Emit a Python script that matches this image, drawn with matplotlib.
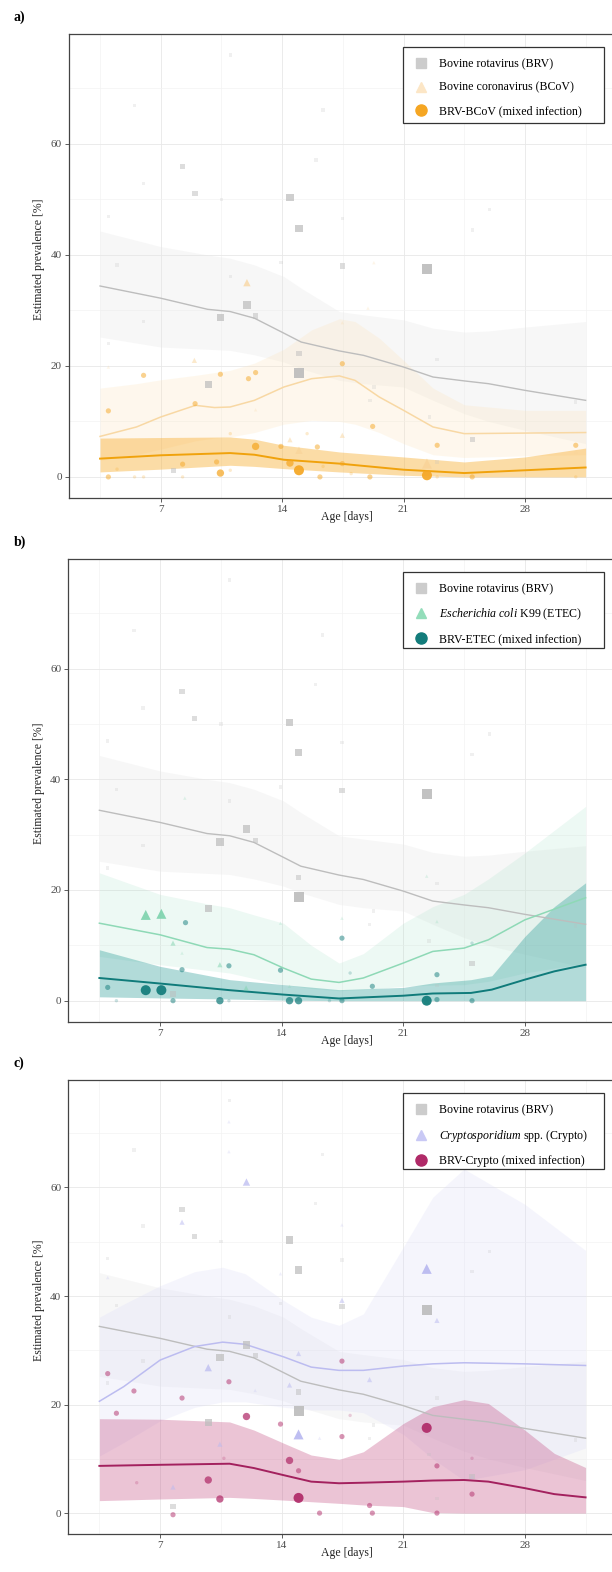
import numpy as np
import matplotlib
matplotlib.use("Agg")
from matplotlib import pyplot as plt
from matplotlib.colors import to_rgba
from matplotlib.lines import Line2D
from matplotlib.patches import Rectangle

plt.rcParams["font.family"] = ["Liberation Serif", "DejaVu Serif"]
plt.rcParams["mathtext.fontset"] = "custom"
plt.rcParams["mathtext.rm"] = "Liberation Serif"
plt.rcParams["mathtext.it"] = "Liberation Serif:italic"

# ---------------- datos ----------------
# Bovine rotavirus (igual en los tres paneles)
brv_x = [3.5, 7, 9.7, 11, 12.4, 14.1, 15.1, 17.3, 18.7, 21, 22.7, 24.5, 25.9, 28, 31.5]
brv_y = [34.4, 32.2, 30.2, 29.8, 28.6, 25.9, 24.3, 22.7, 21.9, 19.8, 18.0, 17.3, 16.8, 15.6, 13.8]
brv_hi = [44.3, 41.5, 40.0, 39.4, 38.2, 36.1, 34.0, 29.8, 29.2, 28.3, 26.8, 26.1, 26.3, 27.0, 28.0]
brv_lo = [25.2, 23.4, 23.0, 22.8, 22.0, 20.7, 19.5, 17.4, 16.8, 16.2, 13.8, 11.4, 10.0, 8.4, 6.0]
brv_px = [22.35, 14.97, 11.97, 10.44, 9.77, 14.45, 14.97, 14.97, 17.47, 8.26, 8.98, 12.47, 7.74,
          24.96, 22.94, 22.48, 19.06, 5.49, 3.98, 4.48, 6.01, 10.51, 13.93, 19.29, 30.93, 6.01,
          3.98, 25.97, 24.96, 17.47, 11.01, 15.96, 11.01, 16.36, 22.94]
brv_py = [37.4, 18.8, 31.0, 28.7, 16.7, 50.3, 44.8, 22.3, 38.0, 55.9, 51.0, 29.0, 1.2,
          6.7, 21.2, 10.8, 13.8, 66.9, 46.9, 38.2, 52.9, 50.0, 38.6, 16.2, 13.5, 28.0,
          24.0, 48.2, 44.5, 46.6, 36.1, 57.1, 76.0, 66.1, 2.7]
brv_pw = [4, 4, 3, 3, 3, 3, 3, 2, 2, 2, 2, 2, 2,
          2, 1, 1, 1, 1, 1, 1, 1, 1, 1, 1, 1, 1,
          1, 1, 1, 1, 1, 1, 1, 1, 1]

# a) BCoV
bcov_x = [3.5, 5.6, 7, 9, 10.1, 11, 12.4, 14.1, 15.7, 17.3, 18.2, 19.6, 21, 22.7, 24.5, 28, 31.5]
bcov_y = [7.3, 9.0, 10.8, 12.9, 12.5, 12.6, 13.8, 16.2, 17.7, 18.2, 17.4, 14.4, 12.0, 9.0, 7.8, 7.9, 8.0]
bcov_hi = [16, 16.8, 17.5, 18.3, 18.8, 19.2, 20.5, 23, 26.5, 28.5, 28, 25, 21, 16, 13, 12, 12]
bcov_lo = [3, 4, 5, 6.5, 7, 7.2, 8, 9.5, 10.2, 10, 9.5, 8, 6, 4, 3.5, 3.8, 4]
bcov_px = [11.97, 22.35, 14.97, 14.45, 17.47, 8.94, 17.47, 18.95, 19.29, 3.98, 12.47, 30.93]
bcov_py = [35.0, 2.4, 4.8, 6.7, 7.5, 21.0, 27.8, 30.4, 38.6, 19.8, 12.1, 4.5]
bcov_pw = [3, 4, 3, 2, 2, 2, 1, 1, 1, 1, 1, 1]

# a) BRV-BCoV
mixa_x = [3.5, 7, 11, 12.4, 14.1, 17.3, 21, 24.5, 28, 31.5]
mixa_y = [3.3, 3.9, 4.3, 4.0, 3.1, 2.4, 1.3, 0.7, 1.2, 1.7]
mixa_hi = [7.0, 7.1, 7.2, 6.8, 5.7, 4.5, 3.6, 2.7, 3.6, 5.2]
mixa_lo = [0.9, 1.4, 2.1, 1.9, 1.5, 0.9, 0.3, 0, 0, 0]
mixa_px = [22.35, 14.97, 10.44, 14.45, 12.47, 13.93, 8.98, 8.26, 10.22, 6.01, 3.98, 10.44, 12.06,
           12.47, 17.47, 19.22, 22.94, 30.93, 15.44, 16.03, 3.98, 5.49, 6.01, 8.26, 16.18, 17.47,
           17.98, 19.06, 22.94, 24.96, 30.93, 11.01, 11.01, 4.48, 16.36]
mixa_py = [0.3, 1.2, 0.7, 2.5, 5.5, 5.5, 13.2, 2.3, 2.7, 18.3, 11.9, 18.5, 17.7,
           18.8, 20.4, 9.1, 5.7, 5.7, 7.8, 5.4, 0, 0, 0, 0, 0, 2.4,
           0.6, 0, 0, 0, 0, 7.8, 1.2, 1.4, 1.9]
mixa_pw = [4, 4, 3, 3, 3, 2, 2, 2, 2, 2, 2, 2, 2,
           2, 2, 2, 2, 2, 1, 2, 2, 1, 1, 1, 2, 2,
           1, 2, 1, 2, 1, 1, 1, 1, 1]

# b) ETEC
etec_x = [3.5, 7, 9.7, 11, 12.4, 14.1, 15.7, 17.3, 18.7, 21, 22.7, 24.5, 25.9, 28, 31.5]
etec_y = [14.0, 11.9, 9.6, 9.3, 8.3, 5.9, 3.9, 3.3, 4.1, 6.8, 8.9, 9.5, 11.0, 14.6, 18.6]
etec_hi = [23.1, 19.2, 17.5, 16.8, 15.5, 14.0, 10.0, 6.8, 8.5, 14.0, 17.0, 19.2, 22.0, 26.7, 35.1]
etec_lo = [8.0, 6.5, 5.5, 5.0, 4.0, 2.9, 2.2, 1.8, 2.0, 2.6, 2.8, 2.9, 3.5, 5.0, 6.8]
etec_px = [6.17, 7.07, 22.35, 7.74, 10.44, 11.95, 8.42, 22.35, 22.94, 13.93, 17.47, 8.26, 14.45]
etec_py = [15.5, 15.7, 0.0, 10.4, 6.5, 2.3, 36.6, 22.5, 14.3, 14.0, 14.9, 8.6, 2.6]
etec_pw = [4, 4, 3, 2, 2, 2, 1, 1, 1, 1, 1, 1, 1]

# b) BRV-ETEC
mixb_x = [3.5, 7, 11, 14.1, 17.3, 21, 22.7, 24.9, 26.1, 28, 29.7, 31.5]
mixb_y = [4.1, 3.1, 1.9, 1.1, 0.4, 0.9, 1.3, 1.4, 2.0, 3.8, 5.3, 6.5]
mixb_hi = [9.2, 6.2, 3.8, 2.9, 2.0, 2.4, 3.2, 3.8, 4.5, 11.6, 17.0, 21.3]
mixb_lo = [0.7, 0.5, 0.3, 0.1, 0, 0, 0, 0, 0, 0, 0, 0]
mixb_px = [6.17, 7.07, 22.35, 10.44, 14.45, 14.97, 7.74, 17.47, 13.93, 8.26, 22.94, 24.96,
           10.96, 17.94, 19.22, 8.46, 3.98, 4.48, 16.75, 17.47, 24.96, 22.94, 10.96]
mixb_py = [1.9, 1.9, 0, 0, 0, 0, 0, 11.3, 5.5, 5.6, 4.7, 0,
           6.3, 5.0, 2.6, 14.1, 2.4, 0, 0, 0, 10.4, 0.2, 0]
mixb_pw = [4, 4, 4, 3, 3, 3, 2, 2, 2, 2, 2, 2,
           2, 1, 2, 2, 2, 1, 1, 2, 1, 2, 1]

# c) Crypto
cry_x = [3.5, 4.9, 7, 9, 10.6, 11.9, 14.1, 15.7, 17.3, 18.7, 21, 22.7, 24.5, 28, 31.5]
cry_y = [20.6, 23.3, 28.2, 30.7, 31.5, 31.1, 28.8, 26.9, 26.3, 26.3, 27.1, 27.5, 27.7, 27.5, 27.2]
cry_hi = [36.1, 38.5, 41.9, 44.5, 45.3, 44.1, 39.2, 36.1, 34.6, 36.7, 49.0, 58.2, 63.4, 56.9, 48.4]
cry_lo = [10.5, 13, 17, 19.5, 20.5, 20.5, 19.5, 19, 19, 18.5, 14.5, 10, 6, 8, 12]
cry_px = [22.35, 14.97, 11.97, 9.77, 14.45, 14.97, 17.47, 8.26, 10.44, 7.74, 22.94, 19.06,
          10.96, 10.96, 17.47, 13.93, 24.96, 16.18, 3.98, 12.47, 24.96]
cry_py = [45.0, 14.5, 61.0, 26.8, 23.6, 29.4, 39.2, 53.6, 12.7, 4.8, 35.5, 24.6,
          72.1, 66.6, 53.1, 44.1, 68.7, 13.8, 43.4, 22.6, 6.7]
cry_pw = [4, 4, 3, 3, 2, 2, 2, 2, 2, 2, 2, 2,
          1, 1, 1, 1, 1, 1, 1, 1, 1]

# c) BRV-Crypto
mixc_x = [3.5, 7, 11, 12.4, 14.1, 15.7, 17.3, 18.7, 21, 22.7, 24.5, 25.9, 28, 29.7, 31.5]
mixc_y = [8.7, 8.9, 9.1, 8.3, 7.0, 5.8, 5.5, 5.6, 5.8, 6.0, 6.1, 5.8, 4.6, 3.5, 2.9]
mixc_hi = [17.4, 17.3, 16.8, 15.3, 12.9, 10.7, 9.9, 11.3, 16.5, 19.6, 20.9, 20.2, 15.3, 11.0, 8.4]
mixc_lo = [2.3, 2.6, 2.9, 2.7, 2.4, 2.1, 1.8, 1.5, 1.2, 0.1, 0, 0, 0, 0, 0]
mixc_px = [22.35, 14.97, 11.97, 9.77, 10.44, 14.45, 14.97, 17.47, 17.47, 8.26, 5.49, 3.98, 4.48,
           13.93, 10.96, 22.94, 24.96, 19.06, 7.74, 16.18, 19.22, 22.94, 17.94, 24.96, 5.65, 10.67]
mixc_py = [15.7, 2.8, 17.8, 6.1, 2.6, 9.7, 7.8, 14.1, 28.0, 21.2, 22.5, 25.7, 18.4,
           16.4, 24.2, 8.7, 3.5, 1.4, -0.3, 0, 0, 0, 18.0, 10.1, 5.6, 10.1]
mixc_pw = [4, 4, 3, 3, 3, 3, 2, 2, 2, 2, 2, 2, 2,
           2, 2, 2, 2, 2, 2, 2, 2, 2, 1, 1, 1, 1]

# ---------------- estilo ----------------
W, H = 612, 1572
SIZES = {1: 6, 2: 14, 3: 28, 4: 52}
ALPHAS = {1: 0.22, 2: 0.5, 3: 0.72, 4: 0.92}

GRAY = "#BDBDBD"
panels = [
    dict(letter="a)", top=34, bottom=498.3, left=69,
         path=(bcov_x, bcov_y, bcov_hi, bcov_lo, bcov_px, bcov_py, bcov_pw),
         mix=(mixa_x, mixa_y, mixa_hi, mixa_lo, mixa_px, mixa_py, mixa_pw),
         pcol="#F9D49A", pfill="#FCE3B8", palpha=0.25, pline="#F8D8A4", pleg="#FCE6C6",
         mcol="#F5A623", mfill="#F8B23A", malpha=0.45, mline="#F0A20C",
         labels=["Bovine rotavirus (BRV)", "Bovine coronavirus (BCoV)", "BRV-BCoV (mixed infection)"]),
    dict(letter="b)", top=559, bottom=1022, left=68.3,
         path=(etec_x, etec_y, etec_hi, etec_lo, etec_px, etec_py, etec_pw),
         mix=(mixb_x, mixb_y, mixb_hi, mixb_lo, mixb_px, mixb_py, mixb_pw),
         pcol="#7FD3AE", pfill="#9EDFC2", palpha=0.18, pline="#8ED9B6", pleg="#93DDBA",
         mcol="#137C7B", mfill="#2A9C98", malpha=0.36, mline="#0F7B7A",
         labels=["Bovine rotavirus (BRV)", r"$\it{Escherichia\ coli}$ K99 (ETEC)", "BRV-ETEC (mixed infection)"]),
    dict(letter="c)", top=1080, bottom=1534, left=68.3,
         path=(cry_x, cry_y, cry_hi, cry_lo, cry_px, cry_py, cry_pw),
         mix=(mixc_x, mixc_y, mixc_hi, mixc_lo, mixc_px, mixc_py, mixc_pw),
         pcol="#B9B9F0", pfill="#D9D9F7", palpha=0.25, pline="#BCBCF0", pleg="#C9C9F5",
         mcol="#B02A68", mfill="#C2497F", malpha=0.32, mline="#A3215E",
         labels=["Bovine rotavirus (BRV)", r"$\it{Cryptosporidium}$ spp. (Crypto)", "BRV-Crypto (mixed infection)"]),
]


def puntos(ax, x, y, w, color, marker):
    base = to_rgba(color)
    cols = [(base[0], base[1], base[2], ALPHAS[k]) for k in w]
    ax.scatter(x, y, s=[SIZES[k] for k in w], c=cols, marker=marker,
               linewidths=0, zorder=5)


fig = plt.figure(figsize=(W / 100, H / 100), dpi=100)
right = 625

for p in panels:
    ax = fig.add_axes([p["left"] / W, 1 - p["bottom"] / H,
                       (right - p["left"]) / W, (p["bottom"] - p["top"]) / H])
    ax.set_xlim(1.71, 33.77)
    ax.set_ylim(-3.85, 79.8)

    # bandas
    ax.fill_between(brv_x, brv_lo, brv_hi, color="#E6E6E6", alpha=0.3, lw=0, zorder=1)
    px, py, phi, plo, ppx, ppy, ppw = p["path"]
    ax.fill_between(px, plo, phi, color=p["pfill"], alpha=p["palpha"], lw=0, zorder=1)
    mx, my, mhi, mlo, mpx, mpy, mpw = p["mix"]
    ax.fill_between(mx, mlo, mhi, color=p["mfill"], alpha=p["malpha"], lw=0, zorder=2)

    # curvas
    ax.plot(brv_x, brv_y, color=GRAY, lw=1.0, zorder=3)
    ax.plot(px, py, color=p["pline"], lw=1.1, zorder=3)
    ax.plot(mx, my, color=p["mline"], lw=1.4, zorder=4)

    # puntos
    puntos(ax, brv_px, brv_py, brv_pw, "#BDBDBD", "s")
    puntos(ax, ppx, ppy, ppw, p["pcol"], "^")
    puntos(ax, mpx, mpy, mpw, p["mcol"], "o")

    # ejes y grilla
    ax.set_xticks([7, 14, 21, 28])
    ax.set_xticks([3.5, 10.5, 17.5, 24.5, 31.5], minor=True)
    ax.set_yticks([0, 20, 40, 60])
    ax.set_yticks([10, 30, 50, 70], minor=True)
    ax.grid(which="major", color="#E8E8E8", lw=0.6)
    ax.grid(which="minor", color="#F3F3F3", lw=0.5)
    ax.set_axisbelow(True)
    for s in ax.spines.values():
        s.set_color("#444444")
        s.set_linewidth(0.9)
    ax.tick_params(which="major", length=3, width=0.6, color="#444444",
                   labelcolor="#4D4D4D", labelsize=8, pad=2)
    ax.tick_params(which="minor", length=0)
    ax.set_xlabel("Age [days]", fontsize=8.5, color="#222222")
    ax.xaxis.set_label_coords((347 - p["left"]) / (right - p["left"]), -0.028)
    ax.set_ylabel("Estimated prevalence [%]", fontsize=8.5, color="#222222")
    ax.yaxis.set_label_coords(-(p["left"] - 45) / (right - p["left"]), 0.515)

    # leyenda (marco dibujado aparte, debajo de la leyenda)
    ltop = p["top"] + 13.3
    marco = Rectangle((402.8 / W, 1 - (ltop + 75.7) / H), 200.7 / W, 75.7 / H,
                      transform=fig.transFigure, facecolor="white",
                      edgecolor="#333333", lw=0.9, zorder=9, clip_on=False)
    ax.add_artist(marco)
    handles = [
        Line2D([], [], ls="none", marker="s", ms=7, color="#CCCCCC"),
        Line2D([], [], ls="none", marker="^", ms=7.5, color=p["pleg"]),
        Line2D([], [], ls="none", marker="o", ms=8, color=p["mcol"]),
    ]
    leg = ax.legend(handles, p["labels"], loc="upper left",
                    bbox_to_anchor=(402.8 / W, 1 - (ltop + 1.5) / H),
                    bbox_transform=fig.transFigure, fontsize=8.6,
                    frameon=False, borderpad=0.8,
                    labelspacing=0.95, handlelength=1.5, handletextpad=0.72,
                    borderaxespad=0)
    leg.set_zorder(10)

    fig.text(14 / W, 1 - (p["top"] - 17) / H, p["letter"], fontsize=10,
             fontweight="bold", va="center", ha="left")

fig.savefig("out.png", dpi=100)
